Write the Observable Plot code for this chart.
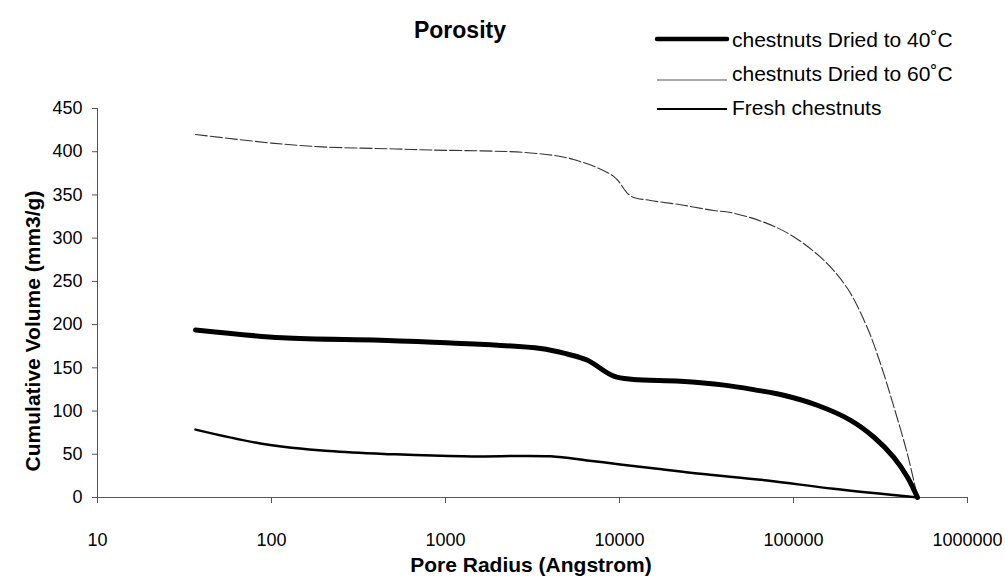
<!DOCTYPE html>
<html><head><meta charset="utf-8">
<script src="https://cdn.jsdelivr.net/npm/d3@7"></script>
<script src="https://cdn.jsdelivr.net/npm/@observablehq/plot@0.6"></script>
<style>body{margin:0;background:#fff} svg{font-family:"Liberation Sans",Arial,sans-serif}</style>
</head><body><div id="chart"></div>
<script>
const titleText = "Porosity";
const xLabel = "Pore Radius (Angstrom)";
const yLabel = "Cumulative Volume (mm3/g)";
const seriesNames = ["chestnuts Dried to 40˚C", "chestnuts Dried to 60˚C", "Fresh chestnuts"];
const xTicks = [10, 100, 1000, 10000, 100000, 1000000];
const yTicks = [0, 50, 100, 150, 200, 250, 300, 350, 400, 450];

const radius40 = [36.6, 115, 423, 1020, 3520, 5000, 6510, 9270, 12000, 22400, 40000, 60000, 87700, 137000, 213000, 289000, 376000, 452000, 516000];
const vol40    = [193.7, 184.8, 182, 179, 172.4, 166, 159, 140.3, 136.5, 134.5, 130, 124.5, 118.3, 106.7, 89.3, 70, 46.7, 23.5, 0];

const radius60 = [36.6, 100, 195, 516, 820, 3080, 5440, 9250, 11570, 15070, 22400, 34700, 43400, 67300, 96100, 148600, 204000, 266000, 316000, 376000, 452000, 516000];
const vol60    = [420, 410, 405.6, 403.2, 402, 398.6, 391, 371.5, 349, 343.6, 338.7, 332, 329.7, 318.6, 303.9, 274.9, 242, 196, 155, 106, 50, 0];

const radiusF = [36.6, 88, 214, 516, 1270, 4010, 6510, 10100, 16500, 29200, 70600, 170000, 516000];
const volF    = [78.5, 62.3, 53.7, 49.9, 47.6, 47.6, 42.9, 38.3, 33.3, 27.4, 19.7, 10, 0];

const toRows = (rs, vs) => rs.map((r, i) => ({r, v: vs[i]}));
const d40 = toRows(radius40, vol40);
const d60 = toRows(radius60, vol60);
const dF = toRows(radiusF, volF);

const chart = Plot.plot({
  width: 1005, height: 578,
  marginLeft: 97, marginRight: 38, marginTop: 108, marginBottom: 81,
  style: {fontFamily: "Liberation Sans, Arial, sans-serif", fontSize: "18px", color: "#000", background: "#fff"},
  x: {type: "log", domain: [10, 1e6]},
  y: {domain: [0, 450]},
  marks: [
    Plot.axisY({ticks: yTicks, tickSize: 5, tickPadding: 10, label: null, stroke: "#555", fill: "#000"}),
    Plot.axisX({ticks: xTicks, tickFormat: d => String(d), tickSize: 6, tickPadding: 30, label: null, stroke: "#555", fill: "#000"}),
    Plot.ruleY([0], {stroke: "#555"}),
    Plot.ruleX([10], {stroke: "#555"}),
    Plot.line(dF, {x: "r", y: "v", stroke: "#000", strokeWidth: 2.5, curve: "catmull-rom"}),
    Plot.line(d60, {x: "r", y: "v", stroke: "#333", strokeWidth: 1.1, strokeDasharray: "12,3", curve: "catmull-rom"}),
    Plot.line(d40, {x: "r", y: "v", stroke: "#000", strokeWidth: 5, strokeLinecap: "round", curve: "catmull-rom"})
  ]
});

const svg = d3.select(chart);
svg.append("text").attr("x", 460).attr("y", 38).attr("text-anchor", "middle")
  .attr("font-weight", "bold").attr("font-size", 23).text(titleText);
svg.append("text").attr("x", 531).attr("y", 572).attr("text-anchor", "middle")
  .attr("font-weight", "bold").attr("font-size", 21).text(xLabel);
svg.append("text").attr("transform", "translate(40,331) rotate(-90)").attr("text-anchor", "middle")
  .attr("font-weight", "bold").attr("font-size", 21).text(yLabel);

const legendRows = [
  {lineY: 39, textY: 39, w: 4.5, c: "#000"},
  {lineY: 80, textY: 73, w: 1, c: "#555"},
  {lineY: 109, textY: 107, w: 2.2, c: "#000"}
];
legendRows.forEach((row, i) => {
  svg.append("line").attr("x1", 657).attr("x2", 727).attr("y1", row.lineY).attr("y2", row.lineY)
    .attr("stroke", row.c).attr("stroke-width", row.w).attr("stroke-linecap", i === 0 ? "round" : "butt");
  svg.append("text").attr("x", 732).attr("y", row.textY).attr("dy", "0.36em")
    .attr("text-anchor", "start").attr("font-size", 21).text(seriesNames[i]);
});

document.getElementById("chart").appendChild(chart);
</script>
</body></html>
